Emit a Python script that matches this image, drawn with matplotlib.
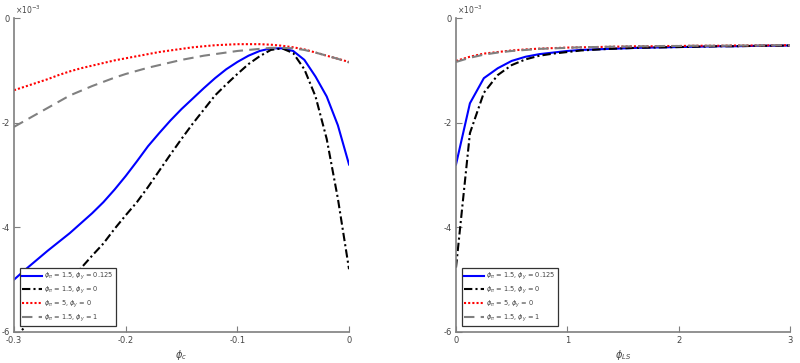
import matplotlib.pyplot as plt

# left panel: phi_c grid
phic = [-0.30, -0.29, -0.28, -0.27, -0.26, -0.25, -0.24, -0.23, -0.22, -0.21,
        -0.20, -0.19, -0.18, -0.17, -0.16, -0.15, -0.14, -0.13, -0.12, -0.11,
        -0.10, -0.09, -0.08, -0.07, -0.06, -0.05, -0.04, -0.03, -0.02, -0.01, 0.0]
c_blue = [-5.00, -4.81, -4.63, -4.45, -4.28, -4.11, -3.92, -3.73, -3.52, -3.28,
          -3.02, -2.74, -2.45, -2.20, -1.96, -1.74, -1.54, -1.34, -1.15, -0.98,
          -0.84, -0.72, -0.63, -0.58, -0.58, -0.63, -0.80, -1.12, -1.50, -2.05, -2.80]
c_black = [-6.12, -5.90, -5.68, -5.46, -5.23, -5.00, -4.78, -4.54, -4.31, -4.03,
           -3.77, -3.52, -3.23, -2.92, -2.61, -2.31, -2.02, -1.75, -1.48, -1.27,
           -1.07, -0.88, -0.73, -0.61, -0.58, -0.67, -0.98, -1.50, -2.31, -3.45, -4.80]
c_red = [-1.38, -1.31, -1.24, -1.17, -1.09, -1.02, -0.96, -0.91, -0.86, -0.81,
         -0.77, -0.73, -0.69, -0.65, -0.62, -0.59, -0.56, -0.54, -0.52, -0.51,
         -0.50, -0.50, -0.50, -0.51, -0.53, -0.56, -0.60, -0.66, -0.72, -0.78, -0.84]
c_gray = [-2.08, -1.96, -1.84, -1.72, -1.60, -1.48, -1.39, -1.30, -1.22, -1.14,
          -1.07, -1.01, -0.95, -0.90, -0.85, -0.80, -0.76, -0.72, -0.69, -0.66,
          -0.63, -0.61, -0.59, -0.57, -0.57, -0.58, -0.61, -0.66, -0.72, -0.78, -0.85]

# right panel: phi_LS grid
phils = [0.0, 0.125, 0.25, 0.375, 0.5, 0.625, 0.75, 0.875, 1.0, 1.125, 1.25, 1.375,
         1.5, 1.625, 1.75, 1.875, 2.0, 2.125, 2.25, 2.375, 2.5, 2.625, 2.75, 2.875, 3.0]
l_blue = [-2.80, -1.63, -1.15, -0.96, -0.82, -0.74, -0.69, -0.66, -0.63, -0.61, -0.60, -0.59,
          -0.58, -0.57, -0.565, -0.56, -0.555, -0.55, -0.545, -0.54, -0.54, -0.535, -0.53, -0.53, -0.525]
l_black = [-4.77, -2.20, -1.43, -1.09, -0.90, -0.79, -0.72, -0.68, -0.65, -0.62, -0.605, -0.59,
           -0.58, -0.57, -0.565, -0.56, -0.555, -0.55, -0.545, -0.54, -0.54, -0.535, -0.53, -0.53, -0.525]
l_red = [-0.82, -0.74, -0.68, -0.65, -0.62, -0.60, -0.585, -0.575, -0.565, -0.56, -0.555, -0.55,
         -0.545, -0.54, -0.54, -0.535, -0.535, -0.53, -0.53, -0.53, -0.525, -0.525, -0.525, -0.52, -0.52]
l_gray = [-0.84, -0.76, -0.70, -0.66, -0.63, -0.61, -0.59, -0.58, -0.57, -0.56, -0.555, -0.55,
          -0.545, -0.54, -0.54, -0.535, -0.535, -0.53, -0.53, -0.53, -0.525, -0.525, -0.525, -0.52, -0.52]

labels = [r'$\phi_\pi$ = 1.5, $\phi_y$ = 0.125', r'$\phi_\pi$ = 1.5, $\phi_y$ = 0',
          r'$\phi_\pi$ = 5, $\phi_y$ = 0', r'$\phi_\pi$ = 1.5, $\phi_y$ = 1']

plt.rcParams['font.family'] = 'DejaVu Sans'
plt.rcParams['mathtext.fontset'] = 'dejavusans'
axcol = '#7f7f7f'
txtcol = '#444444'

fig = plt.figure(figsize=(8, 3.63), dpi=100)
ax1 = fig.add_axes([0.0175, 0.0854, 0.4188, 0.865])
ax2 = fig.add_axes([0.57, 0.0854, 0.4175, 0.865])


def draw(ax, x, blue, black, red, gray, xlim, xticks, xtl, xlabel):
    ax.plot(x, blue, color='#0000ff', lw=1.5, label=labels[0])
    ax.plot(x, black, color='black', lw=1.5, ls=(0, (4, 1.5, 1, 1.5)), label=labels[1])
    ax.plot(x, red, color='red', lw=1.5, ls=(0, (1, 1)), label=labels[2])
    ax.plot(x, gray, color='#808080', lw=1.5, ls=(0, (5, 3)), label=labels[3])
    ax.set_xlim(xlim)
    ax.set_ylim(-6, 0)
    ax.set_xticks(xticks)
    ax.set_xticklabels(xtl)
    ax.set_yticks([-6, -4, -2, 0])
    ax.set_yticklabels(['-6', '-4', '-2', '0'])
    for s in ['top', 'right']:
        ax.spines[s].set_visible(False)
    for s in ['left', 'bottom']:
        ax.spines[s].set_color(axcol)
        ax.spines[s].set_linewidth(1.2)
    ax.tick_params(direction='in', length=4, width=0.8, color=axcol,
                   labelsize=6, labelcolor=txtcol, pad=3)
    ax.set_xlabel(xlabel, fontsize=7, color=txtcol, labelpad=2)
    ax.text(0.003, 1.005, r'$\times$10$^{-3}$', transform=ax.transAxes,
            fontsize=5.5, color=txtcol, va='bottom', ha='left')
    leg = ax.legend(loc='lower left', fontsize=4.8, frameon=True, fancybox=False,
                    framealpha=1, borderaxespad=0.9, handlelength=3.0, handletextpad=0.3,
                    labelspacing=0.35, borderpad=0.35, labelcolor=txtcol)
    leg.get_frame().set_edgecolor('#333333')
    leg.get_frame().set_linewidth(0.9)


draw(ax1, phic, c_blue, c_black, c_red, c_gray, (-0.3, 0),
     [-0.3, -0.2, -0.1, 0], ['-0.3', '-0.2', '-0.1', '0'], r'$\phi_c$')
draw(ax2, phils, l_blue, l_black, l_red, l_gray, (0, 3),
     [0, 1, 2, 3], ['0', '1', '2', '3'], r'$\phi_{LS}$')

fig.savefig('out.png', dpi=100)
